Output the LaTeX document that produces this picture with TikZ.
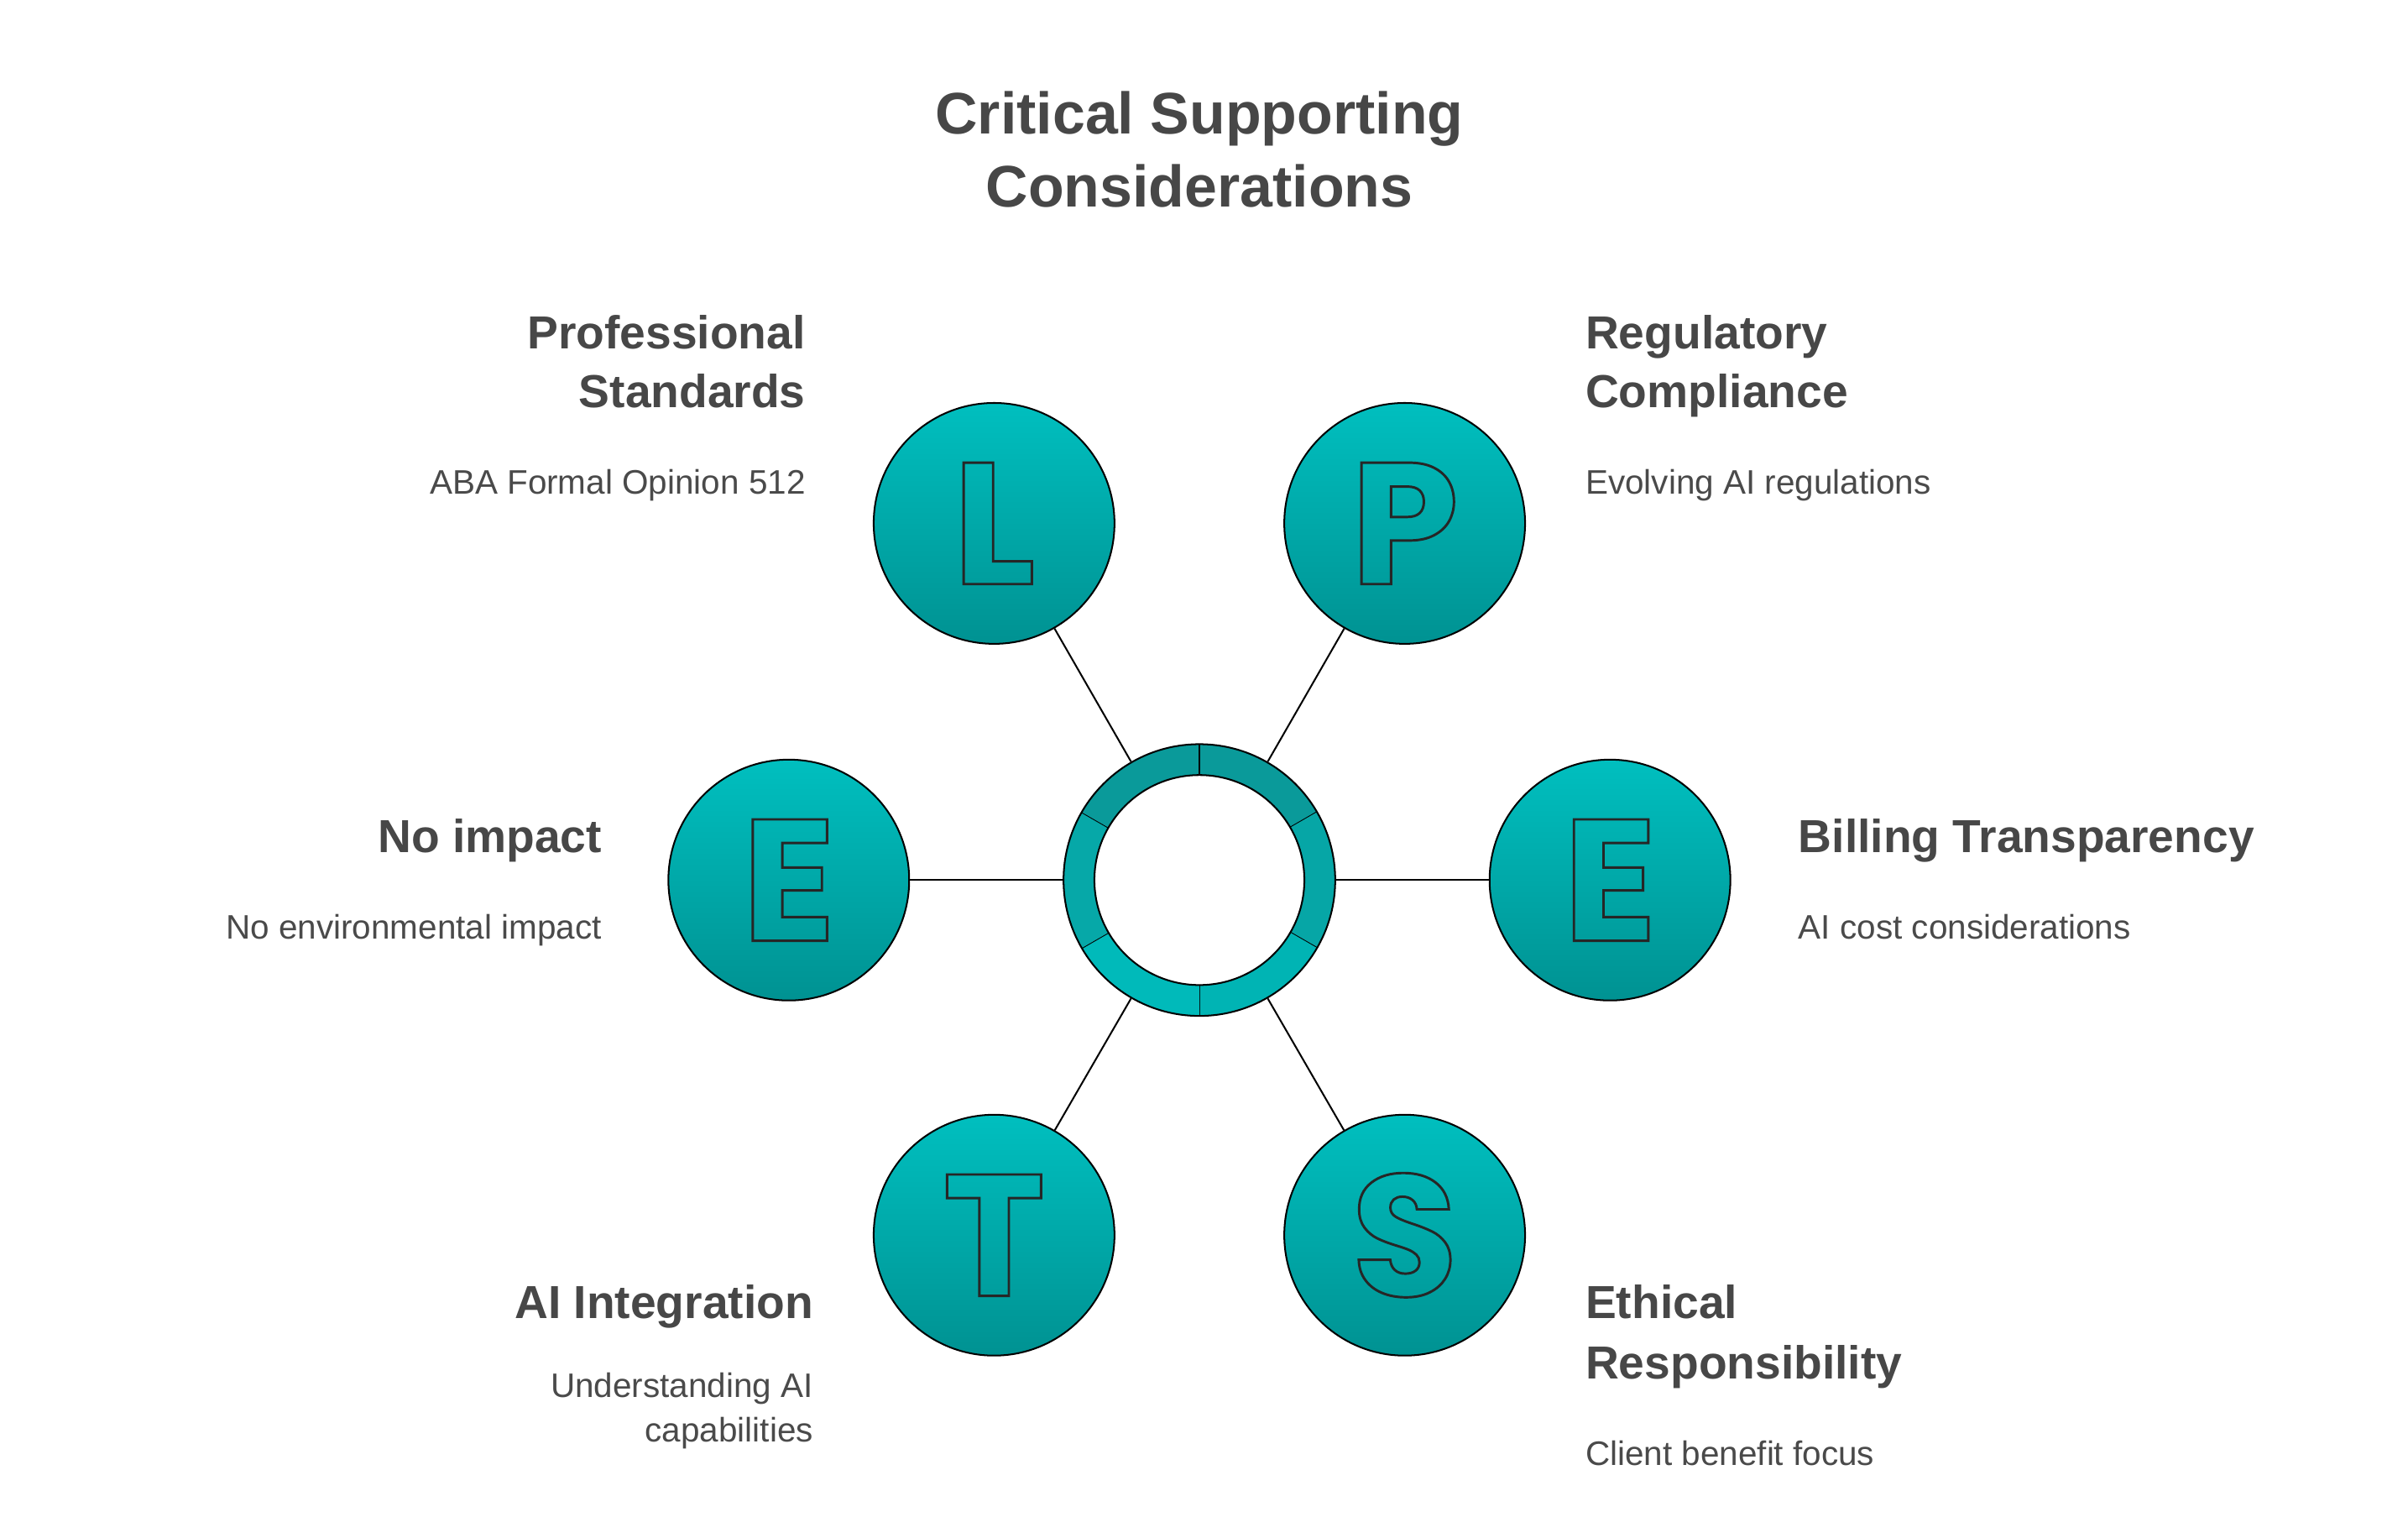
\documentclass[tikz,border=0pt]{standalone}
\usepackage{fontspec}
\setmainfont{Liberation Sans}
\newfontfamily\popp{Poppins}
\usetikzlibrary{calc}
\definecolor{hd}{HTML}{474747}
\definecolor{ds}{HTML}{4A4A4A}
\definecolor{tl}{HTML}{00BFBF}
\definecolor{td}{HTML}{009292}
\newcommand{\outl}[1]{\special{pdf:literal direct 1 Tr 1.6 w}#1\special{pdf:literal direct 0 Tr}}
\begin{document}
\begin{tikzpicture}[x=1pt,y=1pt,
  bub/.style={circle,draw=black,line width=1.1pt,minimum size=156pt,inner sep=0pt,top color=tl,bottom color=td,
     text=black!85,font=\popp\bfseries\fontsize{112}{112}\selectfont},
  ttl/.style={anchor=base,text=hd,font=\bfseries\fontsize{38}{40}\selectfont},
  hr/.style={anchor=base east,text=hd,font=\bfseries\fontsize{30}{36}\selectfont,inner sep=0pt},
  hl/.style={anchor=base west,text=hd,font=\bfseries\fontsize{30}{36}\selectfont,inner sep=0pt},
  dr/.style={anchor=base east,text=ds,font=\fontsize{22}{26}\selectfont,inner sep=0pt},
  dl/.style={anchor=base west,text=ds,font=\fontsize{22}{26}\selectfont,inner sep=0pt},
  con/.style={line width=1.1pt,black}]
\useasboundingbox (0,0) rectangle (1560,996);
\fill[white] (0,0) rectangle (1560,996);
\coordinate (c) at (777,426);
% ring segments
\foreach \a/\col in {30/0A9A9A,-30/06A6A6,-90/00B4B4,-150/00BABA,150/06A8A8,90/0A9A9A}{
  \definecolor{sc}{HTML}{\col}
  \fill[sc] ($(c)+(\a:88)$) arc[start angle=\a,end angle=\a+60,radius=88]
     -- ($(c)+(\a+60:68)$) arc[start angle=\a+60,end angle=\a,radius=68] -- cycle;
  \draw[line width=1.1pt] ($(c)+(\a:68)$) -- ($(c)+(\a:88)$);
}
\node[circle,draw=black,line width=1.1pt,minimum size=176pt,inner sep=0pt] (ring) at (c) {};
\draw[line width=1.1pt,fill=white] (c) circle[radius=68];
% bubbles
\node[bub] (L) at (644,657) {\outl{L}};
\node[bub] (P) at (910,657) {\outl{P}};
\node[bub] (E1) at (511,426) {\outl{E}};
\node[bub] (E2) at (1043,426) {\outl{E}};
\node[bub] (T) at (644,196) {\outl{T}};
\node[bub] (S) at (910,196) {\outl{S}};
\draw[con] (ring.120) -- (L);
\draw[con] (ring.60) -- (P);
\draw[con] (ring.180) -- (E1);
\draw[con] (ring.0) -- (E2);
\draw[con] (ring.-120) -- (T);
\draw[con] (ring.-60) -- (S);
% title
\node[ttl] (t1) at (777,909) {Critical Supporting};
\node[ttl] (t2) at (777,862) {Considerations};
% labels
\node[hr] (a1) at (522,770) {Professional};
\node[hr] (a2) at (522,732) {Standards};
\node[dr] (a3) at (522,676) {ABA Formal Opinion 512};
\node[hl] (b1) at (1027,770) {Regulatory};
\node[hl] (b2) at (1027,732) {Compliance};
\node[dl] (b3) at (1027,676) {Evolving AI regulations};
\node[hr] (c1) at (390,444) {No impact};
\node[dr] (c2) at (390,388) {No environmental impact};
\node[hl] (d1) at (1165,444) {Billing Transparency};
\node[dl] (d2) at (1165,388) {AI cost considerations};
\node[hr] (e1) at (527,142) {AI Integration};
\node[dr] (e2) at (527,91) {Understanding AI};
\node[dr] (e3) at (527,62) {capabilities};
\node[hl] (f1) at (1027,142) {Ethical};
\node[hl] (f2) at (1027,103) {Responsibility};
\node[dl] (f3) at (1027,47) {Client benefit focus};
\end{tikzpicture}
\end{document}
